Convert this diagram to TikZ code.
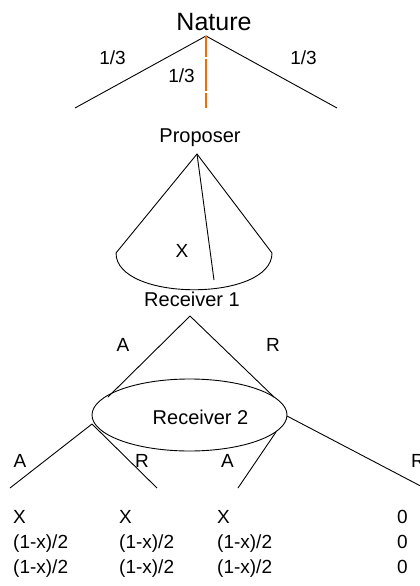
\documentclass[tikz,border=0pt]{standalone}
\usepackage{fontspec}
\setmainfont{Liberation Sans}
\usetikzlibrary{shapes.geometric, positioning}
\definecolor{chanceorange}{RGB}{255,102,0}
\tikzset{
    branch/.style={
           draw=black,
           line width=0.9pt,
           },
    chance/.style={
           draw=chanceorange,
           line width=1.3pt,
           dash pattern=on 21pt off 2pt on 32pt off 2pt,
           },
    player/.style={
           font=\fontsize{20}{24}\selectfont,
           inner sep=0pt,
           },
    move/.style={
           font=\fontsize{19}{23}\selectfont,
           inner sep=0pt,
           },
    payoff/.style={
           font=\fontsize{19}{25}\selectfont,
           align=left,
           anchor=north west,
           inner sep=0pt,
           },
    infoset/.style={
           ellipse,
           draw=black, line width=0.9pt,
           minimum width=195pt,
           minimum height=72pt,
           inner sep=0pt,
           },
}

\begin{document}
\begin{tikzpicture}[x=1pt, y=-1pt]

 \useasboundingbox (0,0) rectangle (420,586);

 % chance move
 \node[player, font=\fontsize{25}{30}\selectfont] (NATURE) at (214,22) {Nature};
 \coordinate (NAT_TOP) at (206,36);
 \coordinate (NAT_L) at (75,108);
 \coordinate (NAT_M) at (206,108);
 \coordinate (NAT_R) at (337,108);

 \node[move] (P_L) at (112.5,57.5) {1/3};
 \node[move] (P_M) at (181.5,75.5) {1/3};
 \node[move] (P_R) at (303.5,57.5) {1/3};

 \path (NAT_TOP) edge[branch] (NAT_L);
 \path (NAT_TOP) edge[branch] (NAT_R);
 \path (NAT_TOP) edge[chance] (NAT_M);

 % proposer picks a share
 \node[player] (PROPOSER) at (200,137.5) {Proposer};
 \coordinate (PROP_TOP) at (197,154);
 \coordinate (CONE_L) at (116,253);
 \coordinate (CONE_R) at (272,253);
 \coordinate (CONE_X) at (214,280);

 \draw[branch] (CONE_L) -- (PROP_TOP) -- (CONE_R)
   .. controls +(0,49) and +(0,49) .. (CONE_L);
 \path (PROP_TOP) edge[branch] (CONE_X);

 \node[move] (SHARE) at (182,250.5) {X};

 % first receiver
 \node[player] (RECV_1) at (192,299) {Receiver 1};
 \coordinate (R1_TOP) at (190,316);

 \node[infoset] (RECV_2_SET) at (189.5,415) {};
 \node[player] (RECV_2) at (200.5,417.5) {Receiver 2};

 \coordinate (R1_A) at (108,397);
 \coordinate (R1_R) at (274,397);

 \node[move] (MOVE_1A) at (123,345) {A};
 \node[move] (MOVE_1R) at (273,345) {R};

 \path (R1_TOP) edge[branch] (R1_A);
 \path (R1_TOP) edge[branch] (R1_R);

 % second receiver
 \coordinate (R2_L) at (92,424);
 \coordinate (R2_M) at (276,432);
 \coordinate (R2_R) at (287,416);

 \coordinate (LEAF_1) at (10,488);
 \coordinate (LEAF_2) at (157,488);
 \coordinate (LEAF_3) at (238,488);
 \coordinate (LEAF_4) at (432,492);

 \path (R2_L) edge[branch] (LEAF_1);
 \path (R2_L) edge[branch] (LEAF_2);
 \path (R2_M) edge[branch] (LEAF_3);
 \path (R2_R) edge[branch] (LEAF_4);

 \node[move] (MOVE_2A) at (20,461) {A};
 \node[move] (MOVE_2R) at (142,461) {R};
 \node[move] (MOVE_3A) at (227.5,461) {A};
 \node[move, anchor=west] (MOVE_3R) at (411,461) {R};

 % payoffs
 \node[payoff] (PAY_1) at (13,510.5) {X\\(1-x)/2\\(1-x)/2};
 \node[payoff] (PAY_2) at (119,510.5) {X\\(1-x)/2\\(1-x)/2};
 \node[payoff] (PAY_3) at (217,510.5) {X\\(1-x)/2\\(1-x)/2};
 \node[payoff] (PAY_4) at (397,510.5) {0\\0\\0};

\end{tikzpicture}
\end{document}
